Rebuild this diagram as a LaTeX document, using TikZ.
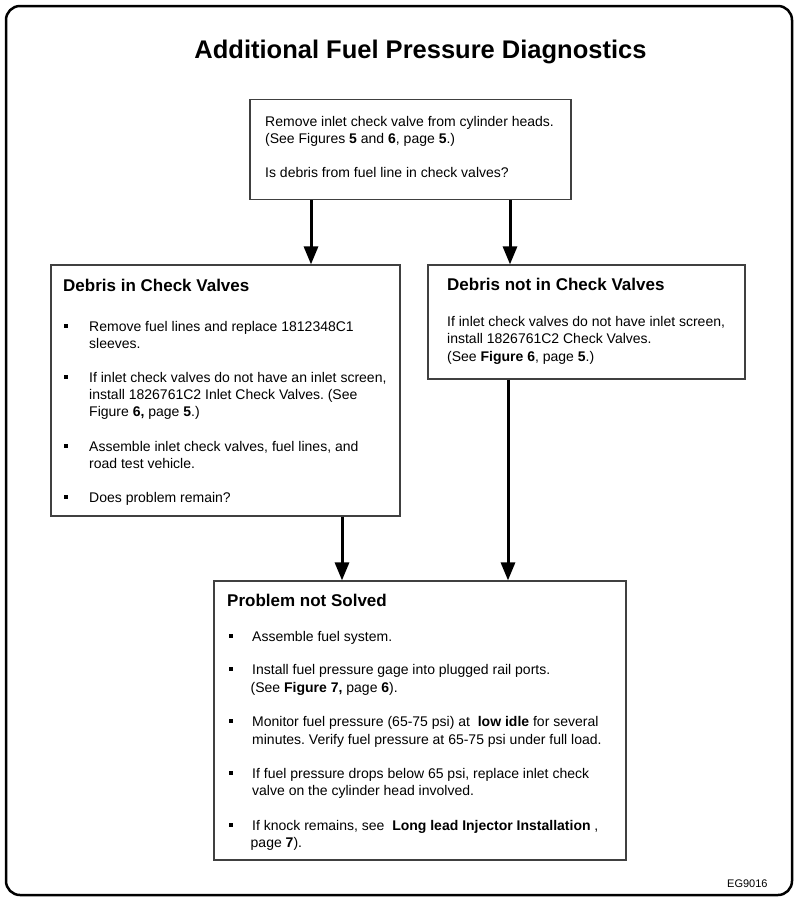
\documentclass[tikz,border=0pt]{standalone}
\usepackage{fontspec}
\setmainfont{Liberation Sans}
\usetikzlibrary{arrows.meta}
\frenchspacing
\tikzset{
  box/.style={draw=black!75, line width=1.2pt, fill=white, inner sep=0pt},
  txt/.style={anchor=base west, inner sep=0pt, font=\fontsize{14}{17}\selectfont},
  hd/.style={anchor=base west, inner sep=0pt, font=\fontsize{17}{20}\selectfont\bfseries},
  bul/.style={fill=black, minimum size=3.5pt, inner sep=0pt},
  arr/.style={line width=3pt, -{Triangle[width=14pt,length=18pt]}},
  frame/.style={line width=2.5pt, rounded corners=14pt},
}
\begin{document}
\begin{tikzpicture}[x=1pt,y=-1pt]
\useasboundingbox (0,0) rectangle (800,906);
\draw[frame] (6,6) rectangle (792,895);

\node[anchor=base, inner sep=0pt, font=\fontsize{25.5}{30}\selectfont\bfseries] (title) at (420.5,58) {Additional Fuel Pressure Diagnostics};

% boxes
\node[box, minimum width=321pt, minimum height=100pt] (top) at (410.5,149.5) {};
\node[box, minimum width=349pt, minimum height=251pt] (dl) at (225.5,390.5) {};
\node[box, minimum width=317pt, minimum height=114pt] (dr) at (586.5,322) {};
\node[box, minimum width=412pt, minimum height=279pt] (pb) at (420,720.5) {};

% arrows
\draw[arr] (311,0 |- top.south) -- (311,0 |- dl.north);
\draw[arr] (510,0 |- top.south) -- (510,0 |- dr.north);
\draw[arr] (342,0 |- dl.south) -- (342,0 |- pb.north);
\draw[arr] (508,0 |- dr.south) -- (508,0 |- pb.north);

% top box text
\node[txt] (t1) at (265,126) {Remove inlet check valve from cylinder heads.};
\node[txt] (t2) at (265,143) {(See Figures \textbf{5} and \textbf{6}, page \textbf{5}.)};
\node[txt] (t3) at (265,177) {Is debris from fuel line in check valves?};

% left box
\node[hd] (dlh) at (63,291) {Debris in Check Valves};
\node[bul] (lb1) at (66,326) {};
\node[bul] (lb2) at (66,377) {};
\node[bul] (lb3) at (66,446) {};
\node[bul] (lb4) at (66,497) {};
\node[txt] (l1) at (89,331) {Remove fuel lines and replace 1812348C1};
\node[txt] (l2) at (89,348) {sleeves.};
\node[txt] (l3) at (89,382) {If inlet check valves do not have an inlet screen,};
\node[txt] (l4) at (89,399) {install 1826761C2 Inlet Check Valves. (See};
\node[txt] (l5) at (89,416) {Figure \textbf{6,} page \textbf{5}.)};
\node[txt] (l6) at (89,451) {Assemble inlet check valves, fuel lines, and};
\node[txt] (l7) at (89,468) {road test vehicle.};
\node[txt] (l8) at (89,502) {Does problem remain?};

% right box
\node[hd] (drh) at (447,290) {Debris not in Check Valves};
\node[txt] (r1) at (447,326) {If inlet check valves do not have inlet screen,};
\node[txt] (r2) at (447,343.5) {install 1826761C2 Check Valves.};
\node[txt] (r3) at (447,361) {(See \textbf{Figure 6}, page \textbf{5}.)};

% bottom box
\node[hd] (pbh) at (227,606) {Problem not Solved};
\node[bul] (bb1) at (231,636) {};
\node[bul] (bb2) at (231,669) {};
\node[bul] (bb3) at (231,721) {};
\node[bul] (bb4) at (231,773) {};
\node[bul] (bb5) at (231,825) {};
\node[txt] (b1) at (252,641) {Assemble fuel system.};
\node[txt] (b2) at (252,674) {Install fuel pressure gage into plugged rail ports.};
\node[txt] (b3) at (250.5,692) {(See \textbf{Figure 7,} page \textbf{6}).};
\node[txt] (b4) at (252,726) {Monitor fuel pressure (65-75 psi) at \ \textbf{low idle} for several};
\node[txt] (b5) at (252,744) {minutes. Verify fuel pressure at 65-75 psi under full load.};
\node[txt] (b6) at (252,778) {If fuel pressure drops below 65 psi, replace inlet check};
\node[txt] (b7) at (252,795) {valve on the cylinder head involved.};
\node[txt] (b8) at (252,830) {If knock remains, see \ \textbf{Long lead Injector Installation} ,};
\node[txt] (b9) at (250.5,847) {page \textbf{7}).};

\node[anchor=base west, inner sep=0pt, font=\fontsize{11}{13}\selectfont] (code) at (727,887) {EG9016};
\end{tikzpicture}
\end{document}
